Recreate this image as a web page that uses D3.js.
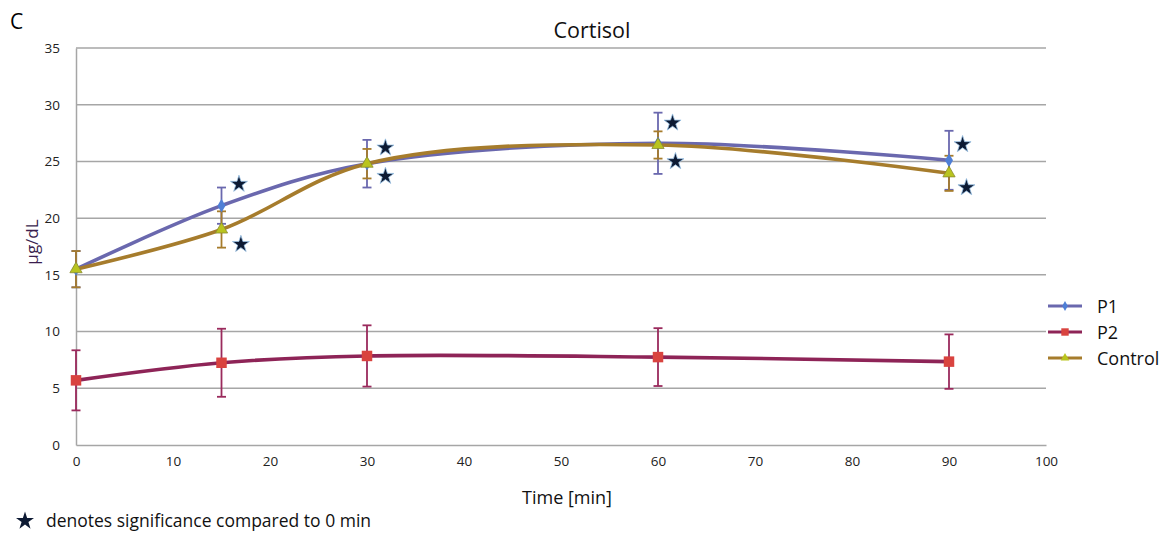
<!DOCTYPE html>
<html>
<head>
<meta charset="utf-8">
<script src="https://cdn.jsdelivr.net/npm/d3@7"></script>
<style>
  body { margin: 0; background: #fff; }
  svg text { font-family: "Open Sans", Lato, sans-serif; }
</style>
</head>
<body>
<div id="chart"></div>
<script>
// time points (min)
const times = [0, 15, 30, 60, 90];

// series means and error (+/-)
const p1 = [15.5, 21.1, 24.8, 26.6, 25.1];
const p1Err = [1.6, 1.6, 2.1, 2.7, 2.6];
const p2 = [5.7, 7.25, 7.85, 7.75, 7.35];
const p2Err = [2.65, 3.0, 2.7, 2.55, 2.4];
const control = [15.5, 19.0, 24.8, 26.45, 23.95];
const controlErr = [1.6, 1.6, 1.3, 1.2, 1.55];

// significance stars (x in min, y in µg/dL)
const starX = [16.8, 17.0, 31.9, 31.9, 61.5, 61.8, 91.4, 91.8];
const starY = [23.0, 17.7, 26.2, 23.7, 28.4, 25.0, 26.5, 22.7];

const xTicks = [0, 10, 20, 30, 40, 50, 60, 70, 80, 90, 100];
const yTicks = [0, 5, 10, 15, 20, 25, 30, 35];

const series = [
    { name: "P1", values: p1, err: p1Err, line: "#6a68ae", marker: "#4f7fd6", errColor: "#6a68ae", shape: "diamond" },
    { name: "P2", values: p2, err: p2Err, line: "#8e2457", marker: "#d9433f", errColor: "#9a2a5c", shape: "square" },
    { name: "Control", values: control, err: controlErr, line: "#a67c2c", marker: "#b9c41f", errColor: "#a67c2c", shape: "triangle" }
];

const width = 1169, height = 536;
const margin = { left: 76, right: 123, top: 48, bottom: 91 };

const svg = d3.select("#chart").append("svg")
    .attr("width", width)
    .attr("height", height);

const x = d3.scaleLinear().domain([0, 100]).range([margin.left, width - margin.right]);
const y = d3.scaleLinear().domain([0, 35]).range([height - margin.bottom, margin.top]);

// gridlines
svg.append("g")
    .selectAll("line")
    .data(yTicks.filter(d => d > 0))
    .enter().append("line")
    .attr("x1", x(0)).attr("x2", x(100))
    .attr("y1", d => y(d)).attr("y2", d => y(d))
    .attr("stroke", "#a6a6a6")
    .attr("stroke-width", 1.5);

// axes
const yAxis = svg.append("g")
    .attr("transform", `translate(${x(0)},0)`)
    .call(d3.axisLeft(y).tickValues(yTicks).tickSize(0).tickPadding(16));
const xAxis = svg.append("g")
    .attr("transform", `translate(0,${y(0)})`)
    .call(d3.axisBottom(x).tickValues(xTicks).tickSize(0).tickPadding(11));

[xAxis, yAxis].forEach(a => {
    a.select(".domain").attr("stroke", "#a6a6a6").attr("stroke-width", 1.5);
    a.selectAll("text").attr("font-size", 13.5).attr("fill", "#222");
});

const line = d3.line()
    .x((d, i) => x(times[i]))
    .y(d => y(d))
    .curve(d3.curveCatmullRom.alpha(0.5));

// error bars first, then lines, then markers
series.forEach(s => {
    const g = svg.append("g");
    s.values.forEach((v, i) => {
        const cx = x(times[i]);
        const top = y(v + s.err[i]), bot = y(v - s.err[i]);
        g.append("line").attr("x1", cx).attr("x2", cx).attr("y1", top).attr("y2", bot)
            .attr("stroke", s.errColor).attr("stroke-width", 1.8);
        [top, bot].forEach(yy => {
            g.append("line").attr("x1", cx - 4.5).attr("x2", cx + 4.5).attr("y1", yy).attr("y2", yy)
                .attr("stroke", s.errColor).attr("stroke-width", 1.8);
        });
    });
});

const symbolFor = shape => shape === "diamond" ? d3.symbolDiamond :
    shape === "square" ? d3.symbolSquare : d3.symbolTriangle;
const sizeFor = shape => shape === "diamond" ? 55 : shape === "square" ? 110 : 65;

series.forEach(s => {
    svg.append("path")
        .attr("d", line(s.values))
        .attr("fill", "none")
        .attr("stroke", s.line)
        .attr("stroke-width", 3.6);
});

series.forEach(s => {
    svg.append("g").selectAll("path")
        .data(s.values)
        .enter().append("path")
        .attr("transform", (d, i) => `translate(${x(times[i])},${y(d)})`)
        .attr("d", d3.symbol().type(symbolFor(s.shape)).size(sizeFor(s.shape)))
        .attr("fill", s.marker)
        .attr("stroke", s.shape === "triangle" ? "#8a8a30" : "none")
        .attr("stroke-width", 0.8);
});

// significance stars
const star = d3.symbol().type(d3.symbolStar).size(90);
svg.append("g").selectAll("path")
    .data(starX)
    .enter().append("path")
    .attr("transform", (d, i) => `translate(${x(d)},${y(starY[i])})`)
    .attr("d", star)
    .attr("fill", "#0d1a33")
    .attr("stroke", "#9bc3e6")
    .attr("stroke-width", 0.8);

// legend
const legend = svg.append("g");
series.forEach((s, i) => {
    const ly = 306 + i * 26;
    legend.append("line").attr("x1", 1048).attr("x2", 1082).attr("y1", ly).attr("y2", ly)
        .attr("stroke", s.line).attr("stroke-width", 3);
    legend.append("path")
        .attr("transform", `translate(1065,${ly})`)
        .attr("d", d3.symbol().type(symbolFor(s.shape)).size(sizeFor(s.shape) * 0.5))
        .attr("fill", s.marker);
    legend.append("text").attr("x", 1097).attr("y", ly + 7)
        .attr("font-size", 18).attr("fill", "#111").text(s.name);
});

// titles
svg.append("text").attr("x", 10).attr("y", 29).attr("font-size", 21).attr("fill", "#000").text("C");
svg.append("text").attr("x", 592).attr("y", 38).attr("text-anchor", "middle")
    .attr("font-size", 21.5).attr("fill", "#111").text("Cortisol");
svg.append("text").attr("x", 567).attr("y", 504).attr("text-anchor", "middle")
    .attr("font-size", 18).attr("fill", "#111").text("Time [min]");
svg.append("text")
    .attr("transform", "translate(38,242) rotate(-90)")
    .attr("text-anchor", "middle")
    .attr("font-size", 17).attr("fill", "#3a1e4e").text("μg/dL");

// footnote
svg.append("path")
    .attr("transform", "translate(25,521)")
    .attr("d", d3.symbol().type(d3.symbolStar).size(100))
    .attr("fill", "#0d1a33");
svg.append("text").attr("x", 46).attr("y", 527)
    .attr("font-size", 17.5).attr("fill", "#111").text("denotes significance compared to 0 min");
</script>
</body>
</html>
